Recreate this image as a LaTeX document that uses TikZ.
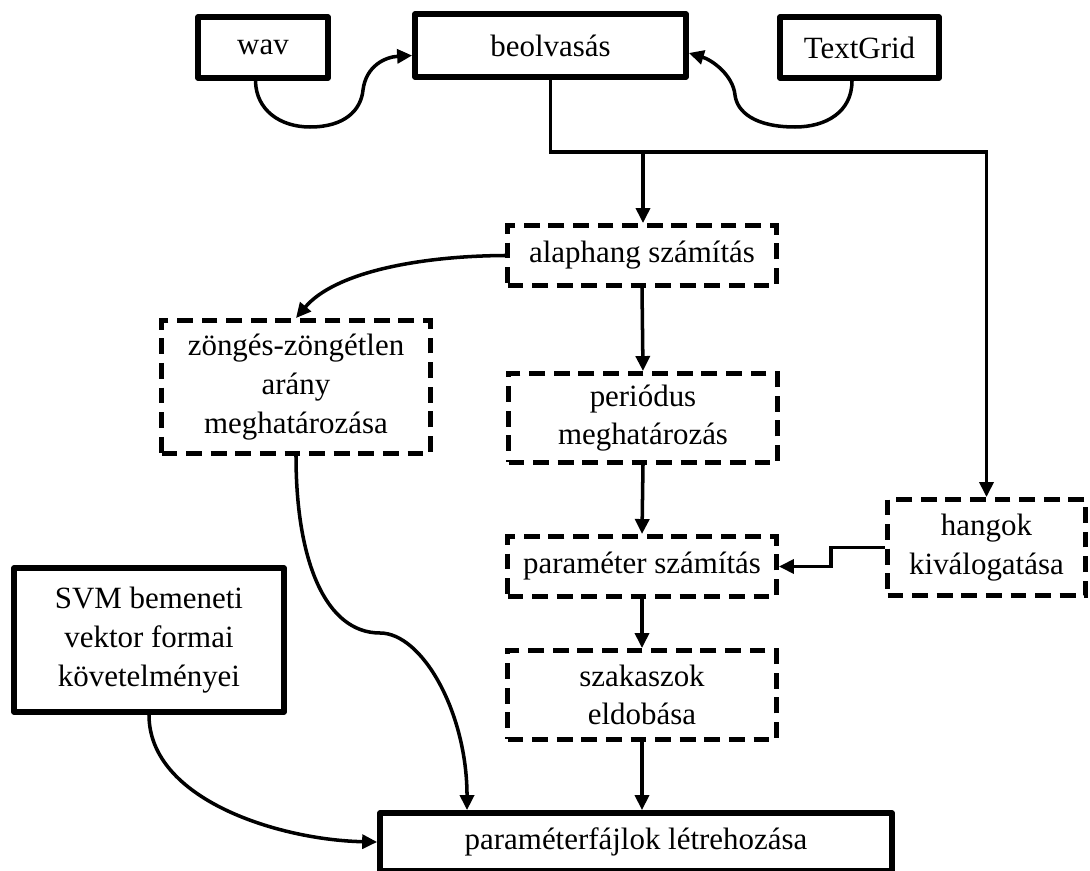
\documentclass[tikz,border=0pt]{standalone}
\usepackage{fontspec}
\setmainfont{Liberation Serif}
\usetikzlibrary{arrows.meta,positioning}
\tikzset{
    datanode/.style={draw, line width=3.3pt, line join=round, align=center, font=\fontsize{17.6}{22}\selectfont},
    procnode/.style={draw, line width=2.8pt, dash pattern=on 9pt off 5pt, align=center, minimum width=5.38cm, font=\fontsize{17.6}{22}\selectfont},
    flow/.style={-{Triangle[length=0.3cm, width=0.28cm]}, line width=2pt},
    link/.style={line width=2pt}
}
\begin{document}
\begin{tikzpicture}[x=0.02cm, y=-0.02cm]
    \useasboundingbox (0,0) rectangle (1090,871);

    \node[datanode, minimum width=2.6cm, minimum height=1.22cm] (wav) at (263,47.5) {wav};
    \node[datanode, minimum width=5.42cm, minimum height=1.26cm] (beolvas) at (550.5,45.5) {beolvasás};
    \node[datanode, minimum width=3.18cm, minimum height=1.22cm] (textgrid) at (859.5,47.5) {TextGrid};
    \node[procnode, minimum height=1.2cm] (alaphang) at (642,255.5) {alaphang számítás};
    \node[procnode, minimum height=2.66cm] (zonges) at (296,387) {zöngés-zöngétlen\\arány\\meghatározása};
    \node[procnode, minimum height=1.78cm] (periodus) at (643,418) {periódus\\meghatározás};
    \node[procnode, minimum height=1.2cm] (parameter) at (642,566.5) {paraméter számítás};
    \node[procnode, minimum width=3.96cm, minimum height=1.92cm] (hangok) at (986.5,547.5) {hangok\\kiválogatása};
    \node[procnode, minimum height=1.78cm] (szakaszok) at (642,695) {szakaszok\\eldobása};
    \node[datanode, minimum width=5.4cm, minimum height=2.88cm] (svm) at (149,640) {SVM bemeneti\\vektor formai\\követelményei};
    \node[datanode, minimum width=10.24cm, minimum height=1.16cm] (fajlok) at (636,842) {paraméterfájlok létrehozása};

    \coordinate (elag) at (643,152);
    \draw[link] (beolvas.south) |- (elag);
    \draw[flow] (elag) -- (elag |- alaphang.north);
    \draw[flow] (elag) -| (hangok.north);

    \draw[flow] ([xshift=-0.15cm]wav.south) .. controls (256,110) and (280,127) .. (310,127)
        .. controls (345,127) and (361,110) .. (363,90)
        .. controls (366,66) and (385,57) .. ([yshift=-0.2cm]beolvas.west);
    \draw[flow] ([xshift=-0.15cm]textgrid.south) .. controls (852,112) and (826,127) .. (795,127)
        .. controls (755,127) and (737,112) .. (735,95)
        .. controls (733,75) and (712,60) .. ([yshift=-0.15cm]beolvas.east);

    \draw[flow] (alaphang.west) .. controls (420,256) and (335,272) .. (zonges.north);
    \draw[flow] (alaphang.south) -- (periodus.north);
    \draw[flow] (periodus.south) -- (parameter.north);
    \draw[flow] (hangok.west) -- ++(-54,0) |- (parameter.east);
    \draw[flow] (parameter.south) -- (szakaszok.north);
    \draw[flow] (szakaszok.south) -- (szakaszok.south |- fajlok.north);

    \draw[flow] (zonges.south) .. controls (296,562) and (326,633) .. (380,633)
        .. controls (422,633) and (467,712) .. ([xshift=-3.38cm]fajlok.north);
    \draw[flow] (svm.south) .. controls (149,800) and (280,840) .. (fajlok.west);
\end{tikzpicture}
\end{document}
